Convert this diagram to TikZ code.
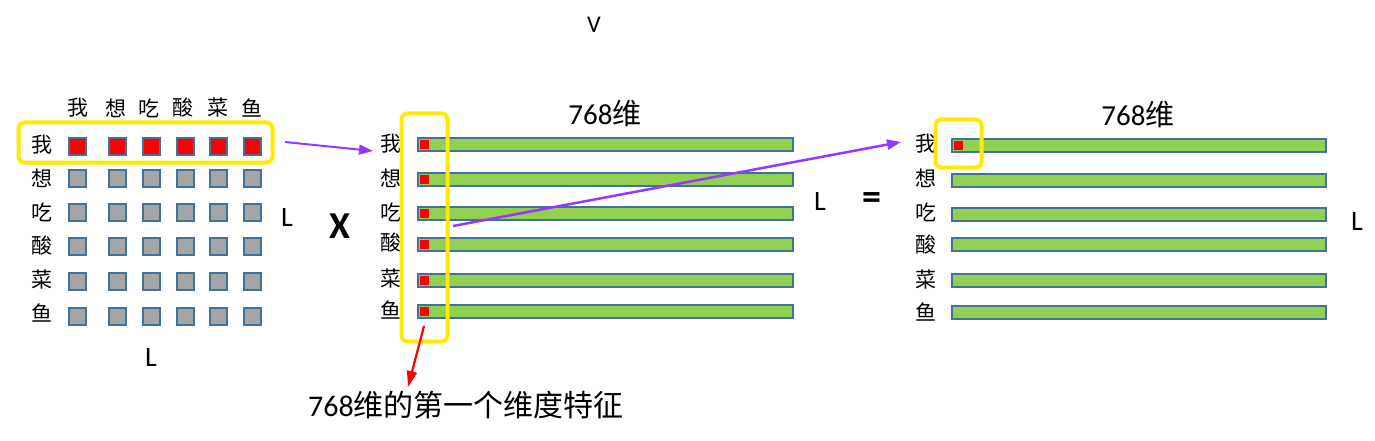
\documentclass[tikz,border=0pt]{standalone}
\usepackage{fontspec}
\setmainfont{Carlito}
\newfontfamily\cjk{Noto Sans CJK SC}
\usetikzlibrary{arrows.meta}
\definecolor{cellborder}{HTML}{41719C}
\definecolor{cellgray}{HTML}{A5A5A5}
\definecolor{bargreen}{HTML}{92D050}
\definecolor{hlyellow}{HTML}{FFEA00}
\definecolor{arrowpurple}{HTML}{9638FF}
\begin{document}
\begin{tikzpicture}[x=1pt,y=-1pt,
  cell/.style={draw=cellborder,line width=2pt,fill=cellgray,minimum size=17pt,inner sep=0pt},
  redcell/.style={cell,fill=red},
  bar/.style={draw=cellborder,line width=2pt,fill=bargreen,minimum height=13pt,inner sep=0pt},
  redmark/.style={fill=red,minimum size=9pt,inner sep=0pt},
  hl/.style={draw=hlyellow,line width=4pt,rounded corners=6pt,inner sep=0pt},
  lab/.style={font=\cjk\fontsize{21}{21}\selectfont,inner sep=0pt},
  dimlab/.style={font=\fontsize{28}{28}\selectfont,inner sep=0pt},
  biglab/.style={font=\fontsize{29}{29}\selectfont,inner sep=0pt},
  parrow/.style={draw=arrowpurple,line width=2pt,-{Triangle[length=14pt,width=10pt]}}
]
\useasboundingbox (0,0) rectangle (1375,441);

% ---------- left matrix ----------
\node[lab] (mc1) at (78,108) {我};
\node[lab] (mc2) at (116,108) {想};
\node[lab] (mc3) at (149,108) {吃};
\node[lab] (mc4) at (183,108) {酸};
\node[lab] (mc5) at (218,108) {菜};
\node[lab] (mc6) at (252,108) {鱼};

\node[lab] (mr1) at (42,145) {我};
\node[lab] (mr2) at (42,178) {想};
\node[lab] (mr3) at (42,212) {吃};
\node[lab] (mr4) at (42,246) {酸};
\node[lab] (mr5) at (42,280) {菜};
\node[lab] (mr6) at (42,313) {鱼};

\foreach \x [count=\j] in {77,117,151,185,218,252}{
  \node[redcell] (c1\j) at (\x,146) {};
  \foreach \y [count=\i from 2] in {178,212,246,281,316}{
    \node[cell] (c\i\j) at (\x,\y) {};
  }
}
\node[hl,minimum width=254pt,minimum height=40pt] (hl1) at (145.5,142.5) {};

\node[dimlab] (Lr) at (287,218) {L};
\node[dimlab] (Lb) at (151,358) {L};

% ---------- operator signs ----------
\node[font=\bfseries\fontsize{38}{38}\selectfont,inner sep=0pt] (times) at (340,226) {X};
\node[font=\bfseries\fontsize{38}{38}\selectfont,inner sep=0pt] (eq) at (872,201) {=};
\node[font=\fontsize{24}{24}\selectfont,inner sep=0pt] (V) at (594,25) {V};

% ---------- middle bars ----------
\node[biglab] (dimA) at (605,114) {768{\cjk 维}};
\foreach \y [count=\i] in {144.5,179,213,244,280,311}{
  \node[bar,minimum width=375pt] (b\i) at (605.5,\y) {};
  \node[redmark] (m\i) at (424.5,\y) {};
}
\node[lab] (nr1) at (391,144) {我};
\node[lab] (nr2) at (391,178) {想};
\node[lab] (nr3) at (391,212) {吃};
\node[lab] (nr4) at (391,243) {酸};
\node[lab] (nr5) at (391,279) {菜};
\node[lab] (nr6) at (391,310) {鱼};
\node[hl,minimum width=46pt,minimum height=228pt] (hl2) at (424.5,227.5) {};
\node[dimlab] (Lm) at (820,202) {L};

% ---------- right bars ----------
\node[biglab] (dimB) at (1138,115) {768{\cjk 维}};
\foreach \y [count=\i] in {145.5,180,214,244.5,280.5,312.5}{
  \node[bar,minimum width=374pt] (r\i) at (1139,\y) {};
}
\node[redmark] (rm1) at (958.5,145.5) {};
\node[lab] (rr1) at (926,144) {我};
\node[lab] (rr2) at (926,178) {想};
\node[lab] (rr3) at (926,212) {吃};
\node[lab] (rr4) at (926,245) {酸};
\node[lab] (rr5) at (926,280) {菜};
\node[lab] (rr6) at (926,312) {鱼};
\node[hl,minimum width=46pt,minimum height=48pt] (hl3) at (958.5,143.5) {};
\node[dimlab] (Lrr) at (1357,222) {L};

% ---------- bottom caption ----------
\node[font=\fontsize{30}{30}\selectfont,inner sep=0pt] (cap) at (466,405) {768{\cjk 维的第一个维度特征}};

% ---------- arrows ----------
\coordinate (a1s) at (285,142);
\coordinate (a1e) at (373,151);
\draw[parrow] (a1s) -- (a1e);
\coordinate (a2s) at (453,226);
\coordinate (a2e) at (901,142);
\draw[parrow,line width=2.5pt] (a2s) -- (a2e);
\coordinate (a3s) at (424,326);
\coordinate (a3e) at (408,387);
\draw[draw=red,line width=2.2pt,-{Triangle[length=16pt,width=10pt]}] (a3s) -- (a3e);
\end{tikzpicture}
\end{document}
